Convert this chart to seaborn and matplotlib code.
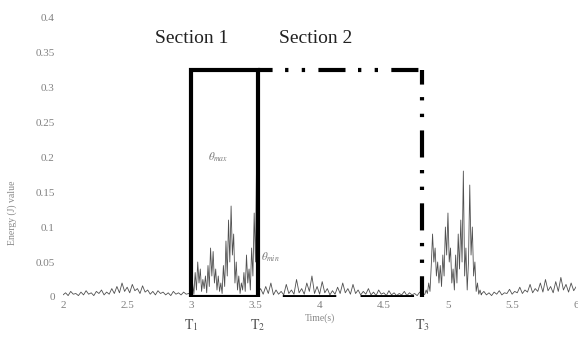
import numpy as np
import pandas as pd
import matplotlib
matplotlib.use("Agg")
import matplotlib.pyplot as plt
import seaborn as sns

# ---- data ----
quiet_a = [0.003,0.006,0.002,0.008,0.004,0.005,0.002,0.007,0.003,0.009,
           0.004,0.006,0.002,0.008,0.005,0.010,0.003,0.007,0.004,0.012,
           0.005,0.015,0.006,0.020,0.008,0.014,0.006,0.018,0.009,0.012,
           0.005,0.016,0.007,0.010,0.004,0.008,0.003,0.009,0.005,0.007,
           0.003,0.006,0.002,0.008,0.004,0.006,0.003,0.007,0.004,0.005,0.003]
burst_1 = [0.005,0.020,0.004,0.035,0.010,0.050,0.020,0.040,0.008,0.025,
           0.012,0.030,0.006,0.045,0.015,0.070,0.030,0.065,0.020,0.040,
           0.010,0.030,0.008,0.020,0.005,0.045,0.015,0.080,0.030,0.110,
           0.050,0.130,0.060,0.090,0.020,0.050,0.010,0.030,0.005,0.020,
           0.010,0.035,0.008,0.060,0.020,0.040,0.010,0.070,0.030,0.120,
           0.050,0.220,0.020]
quiet_b = [0.006,0.012,0.004,0.015,0.005,0.020,0.003,0.010,0.004,0.008,
           0.003,0.018,0.005,0.010,0.004,0.025,0.006,0.012,0.004,0.020,
           0.008,0.030,0.005,0.015,0.004,0.022,0.006,0.012,0.003,0.009,
           0.004,0.014,0.005,0.020,0.006,0.012,0.004,0.018,0.005,0.010,
           0.003,0.008,0.004,0.012,0.003,0.007,0.002,0.010,0.004,0.006,
           0.002,0.009,0.003,0.006,0.002,0.005,0.003,0.008,0.002,0.006,
           0.003,0.005,0.002,0.007,0.003,0.004]
burst_2 = [0.004,0.010,0.005,0.020,0.008,0.045,0.090,0.050,0.070,0.030,
           0.050,0.020,0.045,0.015,0.060,0.030,0.100,0.060,0.120,0.050,
           0.070,0.020,0.040,0.010,0.060,0.020,0.090,0.040,0.110,0.050,
           0.180,0.030,0.070,0.010,0.050,0.160,0.060,0.100,0.030,0.050,
           0.008,0.020,0.004,0.010,0.003]
quiet_c = [0.004,0.008,0.003,0.006,0.002,0.007,0.004,0.009,0.003,0.006,
           0.005,0.011,0.004,0.008,0.006,0.014,0.005,0.010,0.007,0.018,
           0.006,0.012,0.008,0.020,0.007,0.025,0.009,0.015,0.006,0.022,
           0.008,0.028,0.010,0.018,0.007,0.020,0.009,0.015]
segments = [(2.00, 3.00, quiet_a), (3.00, 3.52, burst_1), (3.52, 4.82, quiet_b),
            (4.82, 5.26, burst_2), (5.26, 6.00, quiet_c)]

T1, T2, T3 = 3.0, 3.52, 4.8
box_top = 0.325
x_ticks = [2, 2.5, 3, 3.5, 4, 4.5, 5, 5.5, 6]
y_ticks = [0, 0.05, 0.1, 0.15, 0.2, 0.25, 0.3, 0.35, 0.4]

t, v = [], []
for a, b, vals in segments:
    t.extend(np.linspace(a, b, len(vals)))
    v.extend(vals)
df = pd.DataFrame({"time": t, "value": v})

sns.set_theme(style="white")
plt.rcParams['font.family'] = ['Liberation Serif', 'DejaVu Serif']
plt.rcParams['mathtext.fontset'] = 'stix'

fig = plt.figure(figsize=(5.78, 3.49), dpi=100)
ax = fig.add_axes([0.109, 0.149, 0.888, 0.802])

sns.lineplot(data=df, x="time", y="value", ax=ax, color="#505050",
             linewidth=0.6, estimator=None, sort=False)

# Section 1 box
ax.plot([T1, T1, T2, T2, T1], [0, box_top, box_top, 0, 0], color="black",
        linewidth=3, solid_joinstyle="miter", zorder=3)
# Section 2 box (dash-dot-dot)
dd = (3, (6.5, 3.0, 0.8, 3.2, 0.8, 3.2))
ax.plot([T2, T3], [box_top, box_top], color="black", linewidth=3, linestyle=dd, zorder=3)
ax.plot([T3, T3], [box_top, 0], color="black", linewidth=3, linestyle=dd, zorder=3)
ax.plot([T2, T3], [0, 0], color="black", linewidth=3.5, linestyle=(-5, (11, 5)), zorder=3)

ax.text(3.0, 0.37, "Section 1", ha="center", va="center", fontsize=14, color="#222222")
ax.text(3.97, 0.37, "Section 2", ha="center", va="center", fontsize=14, color="#222222")
ax.text(3.21, 0.2, r"$\theta_{max}$", ha="center", va="center", fontsize=8, color="#777777")
ax.text(3.62, 0.057, r"$\theta_{min}$", ha="center", va="center", fontsize=8, color="#777777")

for x, lab in [(T1, r"$\mathrm{T}_1$"), (T2, r"$\mathrm{T}_2$"), (T3, r"$\mathrm{T}_3$")]:
    ax.text(x, -0.1, lab, transform=ax.get_xaxis_transform(), ha="center",
            va="center", fontsize=10, color="#555555")

ax.set_xlim(2, 6)
ax.set_ylim(0, 0.4)
ax.set_xticks(x_ticks)
ax.set_yticks(y_ticks)
ax.set_xticklabels([f"{x:g}" for x in x_ticks])
ax.set_yticklabels([f"{y:g}" for y in y_ticks])
ax.tick_params(axis="both", length=0, labelsize=8, labelcolor="#808080")
ax.tick_params(axis="x", pad=3)
ax.tick_params(axis="y", pad=6)
for s in ax.spines.values():
    s.set_visible(False)
ax.set_xlabel("Time(s)", fontsize=7, color="#888888", labelpad=2)
ax.set_ylabel("Energy (J) value", fontsize=7, color="#888888")
ax.yaxis.set_label_coords(-0.09, 0.3)

fig.savefig("out.png", dpi=100)
